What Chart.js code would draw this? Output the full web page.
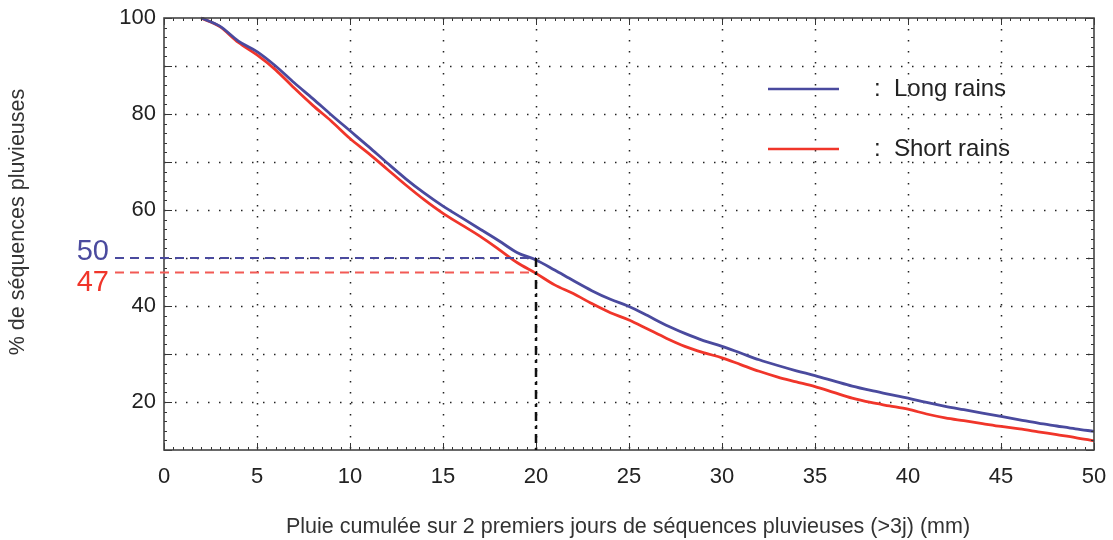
<!DOCTYPE html>
<html>
<head>
<meta charset="utf-8">
<script src="https://cdn.jsdelivr.net/npm/chart.js@4.4.0/dist/chart.umd.min.js"></script>
<style>
  html, body { margin: 0; padding: 0; background: #fff; }
  #wrap { width: 1113px; height: 540px; }
</style>
</head>
<body>
<div id="wrap"><canvas id="grafico" width="1113" height="540"></canvas></div>
<script>
// Données
const pluie = [2,3,4,5,6,7,8,9,10,11,12,13,14,15,16,17,18,19,20,21,22,23,24,25,26,
  27,28,29,30,31,32,33,34,35,36,37,38,39,40,41,42,43,44,45,46,47,48,49,50];
const longRains = [100,98.3,95.2,93.0,90.0,86.5,83.2,79.8,76.5,73.2,69.8,66.5,63.5,60.8,58.4,
  56.0,53.6,51.1,49.6,47.5,45.3,43.2,41.4,39.9,38.0,36.0,34.3,32.8,31.6,30.2,28.8,27.6,26.5,
  25.5,24.4,23.3,22.4,21.6,20.8,19.9,19.1,18.4,17.7,17.0,16.3,15.6,15.0,14.4,13.9];
const shortRains = [100,98.2,94.9,92.3,89.2,85.4,81.8,78.5,74.9,71.8,68.5,65.2,62.1,59.3,56.9,
  54.5,51.8,49.0,46.8,44.4,42.6,40.5,38.6,37.1,35.2,33.3,31.6,30.3,29.2,27.8,26.4,25.2,24.2,
  23.2,22.0,20.8,19.9,19.2,18.5,17.5,16.7,16.1,15.5,14.9,14.4,13.8,13.2,12.6,11.9];
const seuilX = 20;
const seuilLong = 50;
const seuilShort = 47;

const bleu = '#4a4a9e';
const rouge = '#f0352a';
const police = '"Liberation Sans", Arial, sans-serif';

// Grille pointillée, cadre et graduations
const cadre = {
  id: 'cadre',
  beforeDatasetsDraw(chart) {
    const { ctx, chartArea: a, scales: { x, y } } = chart;
    ctx.save();
    ctx.strokeStyle = '#222';
    ctx.lineWidth = 1.5;
    ctx.setLineDash([1.5, 9.5]);
    for (let v = 5; v < 50; v += 5) {
      const px = Math.round(x.getPixelForValue(v)) + 0.5;
      ctx.beginPath(); ctx.moveTo(px, a.top); ctx.lineTo(px, a.bottom); ctx.stroke();
    }
    for (let v = 20; v < 100; v += 10) {
      const py = Math.round(y.getPixelForValue(v)) + 0.5;
      ctx.beginPath(); ctx.moveTo(a.left, py); ctx.lineTo(a.right, py); ctx.stroke();
    }
    ctx.restore();
  },
  afterDatasetsDraw(chart) {
    const { ctx, chartArea: a, scales: { x, y } } = chart;
    ctx.save();
    ctx.strokeStyle = '#333';
    ctx.lineWidth = 1;
    ctx.beginPath();
    for (let v = 0; v <= 50; v += 0.5) {
      const px = Math.round(x.getPixelForValue(v)) + 0.5;
      const len = v % 5 === 0 ? 7 : 3;
      ctx.moveTo(px, a.bottom); ctx.lineTo(px, a.bottom - len);
      ctx.moveTo(px, a.top); ctx.lineTo(px, a.top + len);
    }
    for (let v = 10; v <= 100; v += 2) {
      const py = Math.round(y.getPixelForValue(v)) + 0.5;
      const len = v % 10 === 0 ? 8 : 3;
      ctx.moveTo(a.left, py); ctx.lineTo(a.left + len, py);
      ctx.moveTo(a.right, py); ctx.lineTo(a.right - len, py);
    }
    ctx.stroke();
    ctx.lineWidth = 1.6;
    ctx.strokeStyle = '#444';
    ctx.strokeRect(a.left, a.top, a.right - a.left, a.bottom - a.top);
    ctx.restore();
  }
};

// Lignes de seuil, valeurs 50 / 47 et légende
const annotations = {
  id: 'annotations',
  afterDatasetsDraw(chart) {
    const { ctx, chartArea: a, scales: { x, y } } = chart;
    const x0 = 115;
    const xs = x.getPixelForValue(seuilX);
    const yL = y.getPixelForValue(seuilLong);
    const yS = y.getPixelForValue(seuilShort);
    ctx.save();
    ctx.lineWidth = 2;
    ctx.setLineDash([9, 6]);
    ctx.strokeStyle = bleu;
    ctx.beginPath(); ctx.moveTo(x0, yL); ctx.lineTo(xs, yL); ctx.stroke();
    ctx.strokeStyle = '#f25a55';
    ctx.beginPath(); ctx.moveTo(x0, yS); ctx.lineTo(xs, yS); ctx.stroke();

    ctx.strokeStyle = '#111';
    ctx.lineWidth = 2.5;
    ctx.setLineDash([9, 5, 3, 5]);
    ctx.beginPath(); ctx.moveTo(xs, yL); ctx.lineTo(xs, a.bottom); ctx.stroke();
    ctx.setLineDash([]);

    ctx.font = '29px ' + police;
    ctx.textAlign = 'right';
    ctx.fillStyle = bleu;
    ctx.textBaseline = 'alphabetic';
    ctx.fillText(String(seuilLong), 109, yL + 2);
    ctx.fillStyle = rouge;
    ctx.textBaseline = 'top';
    ctx.fillText(String(seuilShort), 109, yS - 4);

    // légende
    const items = [[bleu, ':  Long rains', 89], [rouge, ':  Short rains', 149]];
    ctx.lineWidth = 2.5;
    ctx.textAlign = 'left';
    ctx.textBaseline = 'middle';
    ctx.font = '24px ' + police;
    items.forEach(([c, t, py]) => {
      ctx.strokeStyle = c;
      ctx.beginPath(); ctx.moveTo(768, py); ctx.lineTo(839, py); ctx.stroke();
      ctx.fillStyle = '#222';
      ctx.fillText(t, 874, py);
    });
    ctx.restore();
  },
  afterDraw(chart) {
    const { ctx } = chart;
    ctx.save();
    ctx.fillStyle = '#333';
    ctx.font = '21.5px ' + police;
    ctx.textAlign = 'center';
    ctx.textBaseline = 'middle';
    ctx.fillText('Pluie cumulée sur 2 premiers jours de séquences pluvieuses (>3j) (mm)', 628, 527);
    ctx.translate(18, 222);
    ctx.rotate(-Math.PI / 2);
    ctx.fillText('% de séquences pluvieuses', 0, 0);
    ctx.restore();
  }
};

new Chart(document.getElementById('grafico').getContext('2d'), {
  type: 'line',
  data: {
    datasets: [
      { label: 'Long rains', data: pluie.map((v, i) => ({ x: v, y: longRains[i] })),
        borderColor: bleu, borderWidth: 2.8, pointRadius: 0, cubicInterpolationMode: 'monotone', clip: 4 },
      { label: 'Short rains', data: pluie.map((v, i) => ({ x: v, y: shortRains[i] })),
        borderColor: rouge, borderWidth: 2.8, pointRadius: 0, cubicInterpolationMode: 'monotone', clip: 4 }
    ]
  },
  options: {
    responsive: false,
    animation: false,
    devicePixelRatio: 1,
    layout: { padding: { top: 18, right: 19, left: 0, bottom: 0 } },
    plugins: { legend: { display: false }, tooltip: { enabled: false } },
    scales: {
      x: {
        type: 'linear', min: 0, max: 50,
        grid: { display: false }, border: { display: false },
        ticks: { stepSize: 5, padding: 6, color: '#222', font: { size: 22, family: police } },
        afterFit(s) { s.height = 90; }
      },
      y: {
        min: 10, max: 100,
        grid: { display: false }, border: { display: false },
        ticks: { stepSize: 10, padding: 0, color: '#222', font: { size: 22, family: police },
          callback: v => (v % 20 === 0 ? v : '') },
        afterFit(s) { s.width = 164; }
      }
    }
  },
  plugins: [cadre, annotations]
});
</script>
</body>
</html>
